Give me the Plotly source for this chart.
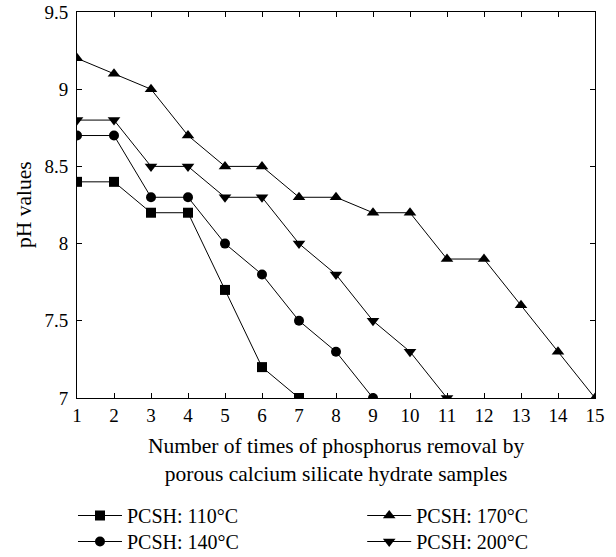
import plotly.graph_objects as go

x_110 = [1, 2, 3, 4, 5, 6, 7]
y_110 = [8.4, 8.4, 8.2, 8.2, 7.7, 7.2, 7.0]
x_140 = [1, 2, 3, 4, 5, 6, 7, 8, 9]
y_140 = [8.7, 8.7, 8.3, 8.3, 8.0, 7.8, 7.5, 7.3, 7.0]
x_170 = list(range(1, 16))
y_170 = [9.2, 9.1, 9.0, 8.7, 8.5, 8.5, 8.3, 8.3, 8.2, 8.2, 7.9, 7.9, 7.6, 7.3, 7.0]
x_200 = list(range(1, 12))
y_200 = [8.8, 8.8, 8.5, 8.5, 8.3, 8.3, 8.0, 7.8, 7.5, 7.3, 7.0]

names = ["PCSH: 110°C", "PCSH: 140°C", "PCSH: 170°C", "PCSH: 200°C"]
symbols = ["square", "circle", "triangle-up", "triangle-down"]
sizes = [10, 10, 11, 11]
legends = ["legend", "legend2", "legend3", "legend4"]
xs = [x_110, x_140, x_170, x_200]
ys = [y_110, y_140, y_170, y_200]

x_title = "Number of times of phosphorus removal by<br>porous calcium silicate hydrate samples"
y_title = "pH values"

FONT = "Liberation Serif, Times New Roman, serif"
TICK_FS = 19
TITLE_FS = 21.5
LEG_FS = 20
fig = go.Figure()
for x, y, n, s, sz, lg in zip(xs, ys, names, symbols, sizes, legends):
    fig.add_trace(go.Scatter(
        x=x, y=y, name=n, mode="lines+markers",
        line=dict(color="black", width=1),
        marker=dict(symbol=s, size=sz, color="black"),
        legend=lg, showlegend=True, cliponaxis=True,
    ))

axis_common = dict(
    showline=True, linecolor="black", linewidth=1, mirror="ticks",
    ticks="inside", ticklen=5, tickcolor="black", showgrid=False, zeroline=False,
    tickfont=dict(family=FONT, size=TICK_FS, color="black"),
)
fig.update_xaxes(range=[1, 15], dtick=1, tick0=1, **axis_common)
fig.update_yaxes(range=[7, 9.5], dtick=0.5, tick0=7, ticklabelstandoff=4, **axis_common)

fig.add_annotation(text=x_title, xref="paper", yref="paper", x=0.5, y=-(459.5 - 398) / 386,
                   xanchor="center", yanchor="middle", showarrow=False,
                   font=dict(family=FONT, size=TITLE_FS, color="black"))
fig.add_annotation(text=y_title, xref="paper", yref="paper", x=(24 - 77) / 518, y=0.5,
                   xanchor="center", yanchor="middle", showarrow=False, textangle=-90,
                   font=dict(family=FONT, size=TITLE_FS, color="black"))

legend_common = dict(font=dict(family=FONT, size=LEG_FS, color="black"), bgcolor="rgba(0,0,0,0)",
                     orientation="v", xanchor="left", yanchor="top", tracegroupgap=0,
                     itemwidth=44, xref="container", yref="container")
row1_y = 1 - 496 / 557
row2_y = 1 - 522 / 557
fig.update_layout(
    width=616, height=557,
    margin=dict(l=77, r=21, t=12, b=159, autoexpand=False),
    plot_bgcolor="white", paper_bgcolor="white",
    showlegend=True,
    font=dict(family=FONT, size=TICK_FS, color="black"),
    legend=dict(x=0.1185, y=row1_y, **legend_common),
    legend2=dict(x=0.1185, y=row2_y, **legend_common),
    legend3=dict(x=0.588, y=row1_y, **legend_common),
    legend4=dict(x=0.588, y=row2_y, **legend_common),
)
fig.write_html("out.html")
